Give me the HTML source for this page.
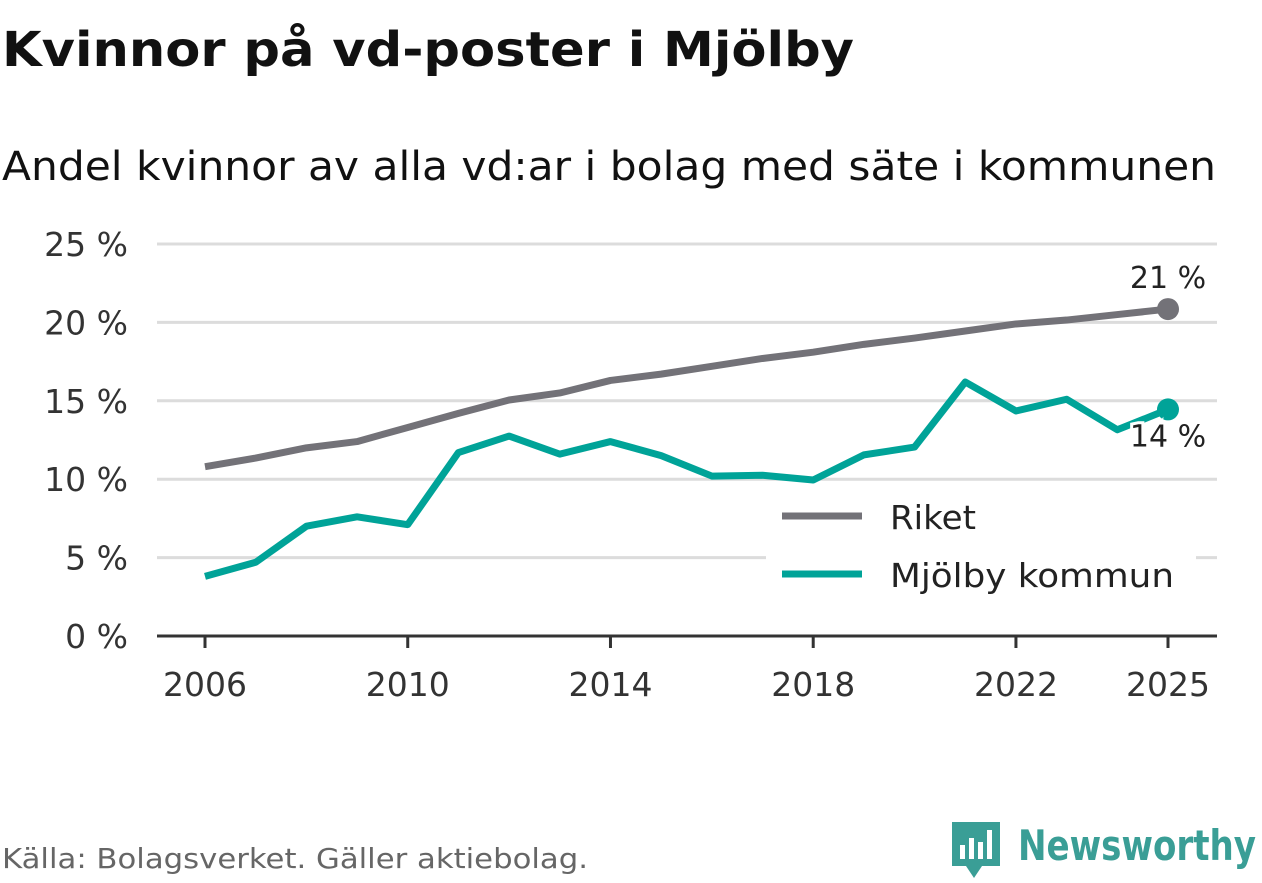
<!DOCTYPE html>
<html><head><meta charset="utf-8"><style>
body{margin:0;background:#fff;width:1262px;height:879px;overflow:hidden;font-family:"DejaVu Sans","Liberation Sans",sans-serif;}
</style></head><body>
<svg width="1262" height="879" xmlns="http://www.w3.org/2000/svg">
<text x="2" y="66" font-size="48" font-weight="bold" fill="#111" textLength="852" lengthAdjust="spacingAndGlyphs">Kvinnor på vd-poster i Mjölby</text>
<text x="2" y="180" font-size="40" fill="#111" textLength="1214" lengthAdjust="spacingAndGlyphs">Andel kvinnor av alla vd:ar i bolag med säte i kommunen</text>
<g id="grid"></g><g id="lines"></g>
<g>
<rect x="766" y="494" width="430" height="100" fill="#fff"/>
<line x1="782" y1="516" x2="862" y2="516" stroke="#737278" stroke-width="7"/>
<text x="890" y="529" font-size="33" fill="#222" textLength="86" lengthAdjust="spacingAndGlyphs">Riket</text>
<line x1="782" y1="574" x2="862" y2="574" stroke="#00a398" stroke-width="7"/>
<text x="890" y="587" font-size="33" fill="#222" textLength="284" lengthAdjust="spacingAndGlyphs">Mjölby kommun</text>
</g>
<text x="2" y="868" font-size="28" fill="#666" textLength="586" lengthAdjust="spacingAndGlyphs">Källa: Bolagsverket. Gäller aktiebolag.</text>
<g>
<path d="M952 822h48v44h-18l-8 12-8-12h-14z" fill="#3a9e96"/>
<rect x="960" y="845" width="5" height="14" fill="#fff"/><rect x="969" y="838" width="5" height="21" fill="#fff"/><rect x="978" y="842" width="5" height="17" fill="#fff"/><rect x="987" y="830" width="5" height="29" fill="#fff"/>
<text x="1018" y="860" font-size="42" font-weight="bold" fill="#3a9e96" textLength="238" lengthAdjust="spacingAndGlyphs">Newsworthy</text>
</g>
</svg>
<script>
const years=[2006,2007,2008,2009,2010,2011,2012,2013,2014,2015,2016,2017,2018,2019,2020,2021,2022,2023,2024,2025];
const riket=[10.8,11.35,12.0,12.4,13.3,14.2,15.05,15.5,16.3,16.7,17.2,17.7,18.1,18.6,19.0,19.45,19.9,20.15,20.5,20.85];
const mjolby=[3.8,4.7,7.0,7.6,7.1,11.7,12.75,11.6,12.4,11.5,10.2,10.25,9.95,11.55,12.05,16.2,14.35,15.1,13.15,14.45];
const yTicks=[0,5,10,15,20,25];
const xTicks=[2006,2010,2014,2018,2022,2025];
const NS="http://www.w3.org/2000/svg";
const x=v=>205+(v-2006)*(1168-205)/19;
const y=v=>636-v*(636-244)/25;
function mk(t,a,p){const e=document.createElementNS(NS,t);for(const k in a)e.setAttribute(k,a[k]);p.appendChild(e);return e;}
const g=document.getElementById('grid'),L=document.getElementById('lines');
yTicks.forEach(t=>{
 if(t>0){const l=mk('line',{x1:157,x2:1217,y1:y(t),y2:y(t),stroke:'#dcdcdc','stroke-width':3},g);
 
 }
 const tx=mk('text',{x:128,y:y(t)+12,'font-size':33,fill:'#333','text-anchor':'end'},g);tx.textContent=t+' %';
 
 
});
const ax=mk('line',{x1:157,x2:1217,y1:636,y2:636,stroke:'#333','stroke-width':3},g);


xTicks.forEach(t=>{
 mk('line',{x1:x(t),x2:x(t),y1:636,y2:648,stroke:'#333','stroke-width':3},g);
 const tx=mk('text',{x:x(t),y:696,'font-size':33,fill:'#333','text-anchor':'middle'},g);tx.textContent=t;
 
 
});
function series(vals,col,name){
 const p=mk('polyline',{points:vals.map((v,i)=>x(years[i])+','+y(v)).join(' '),fill:'none',stroke:col,'stroke-width':7,'stroke-linejoin':'round'},L);
 
 
 const n=vals.length-1;
 const c=mk('circle',{cx:x(years[n]),cy:y(vals[n]),r:11,fill:col},L);
 
 
}
series(riket,'#737278','riket');
series(mjolby,'#00a398','mjolby');
const n=years.length-1;
const a1=mk('text',{x:x(years[n]),y:y(riket[n])-21,'font-size':30,fill:'#222','text-anchor':'middle'},L);a1.textContent=Math.round(riket[n])+' %';


const a2=mk('text',{x:x(years[n]),y:y(mjolby[n])+37,'font-size':30,fill:'#222','text-anchor':'middle',stroke:'#fff','stroke-width':6,'paint-order':'stroke'},L);a2.textContent=Math.round(mjolby[n])+' %';


</script>
</body></html>
